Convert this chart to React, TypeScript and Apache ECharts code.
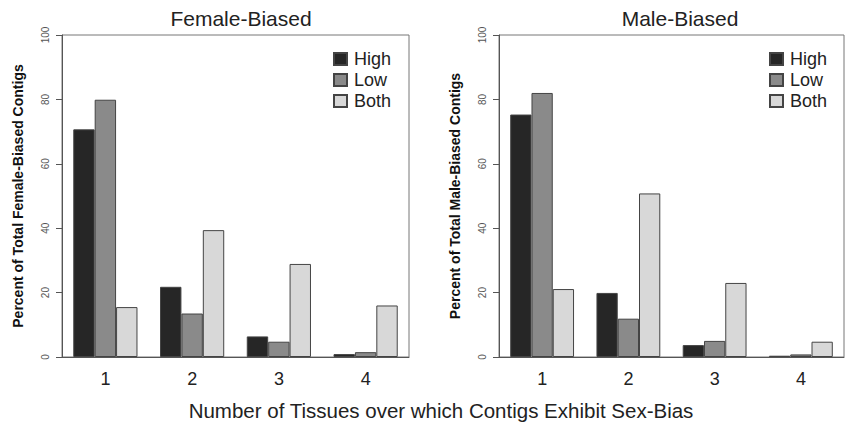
import React, { useEffect, useRef } from "react";
import * as echarts from "echarts";

const categories = ["1", "2", "3", "4"];
const seriesNames = ["High", "Low", "Both"];
const femaleHigh = [70.7, 21.8, 6.4, 0.9];
const femaleLow = [79.9, 13.5, 4.75, 1.5];
const femaleBoth = [15.5, 39.4, 28.9, 16.0];
const maleHigh = [75.3, 19.9, 3.7, 0.4];
const maleLow = [82.0, 11.9, 5.0, 0.8];
const maleBoth = [21.1, 50.8, 23.0, 4.75];
const panelTitles = ["Female-Biased", "Male-Biased"];
const yTitles = ["Percent of Total Female-Biased Contigs", "Percent of Total Male-Biased Contigs"];
const xTitle = "Number of Tissues over which Contigs Exhibit Sex-Bias";

const colors = ["#262626", "#8a8a8a", "#d8d8d8"];
const FONT = "'Liberation Sans', Arial, Helvetica, sans-serif";

export default function App() {
  const ref = useRef<HTMLDivElement>(null);
  useEffect(() => {
    if (!ref.current) return;
    const chart = echarts.init(ref.current, null, { renderer: "svg" });
    const panels = [
      [femaleHigh, femaleLow, femaleBoth],
      [maleHigh, maleLow, maleBoth],
    ];
    const grids = [
      { left: 62, top: 35, width: 347, height: 322 },
      { left: 499, top: 35, width: 345, height: 322 },
    ];
    const series: any[] = [];
    panels.forEach((vals, gi) => {
      vals.forEach((v, si) => {
        series.push({
          type: "bar",
          name: seriesNames[si],
          xAxisIndex: gi,
          yAxisIndex: gi,
          data: v,
          barGap: "0%",
          barCategoryGap: "26%",
          itemStyle: { color: colors[si], borderColor: "#444", borderWidth: 1, borderRadius: 0, borderJoin: "miter" },
        });
      });
    });
    const legendBase = {
      orient: "vertical",
      icon: "rect",
      itemWidth: 13,
      itemHeight: 12,
      itemGap: 3,
      padding: 0,
      data: seriesNames,
      selectedMode: false,
      textStyle: { fontSize: 18, color: "#222", fontFamily: FONT, padding: [0, 0, 0, 2] },
    };
    chart.setOption({
      animation: false,
      textStyle: { fontFamily: FONT },
      title: [
        { text: panelTitles[0], left: 236, top: 3, textAlign: "center", textStyle: { fontSize: 21, fontWeight: "normal", color: "#222", fontFamily: FONT } },
        { text: panelTitles[1], left: 675, top: 3, textAlign: "center", textStyle: { fontSize: 21, fontWeight: "normal", color: "#222", fontFamily: FONT } },
        { text: xTitle, left: 436, top: 395, textAlign: "center", textStyle: { fontSize: 20.5, fontWeight: "normal", color: "#222", fontFamily: FONT } },
      ],
      legend: [
        { ...legendBase, left: 333, top: 50 },
        { ...legendBase, left: 769, top: 50 },
      ],
      grid: grids.map((g) => ({ ...g, show: true, borderColor: "#777", borderWidth: 1, backgroundColor: "transparent" })),
      xAxis: grids.map((_, i) => ({
        type: "category",
        gridIndex: i,
        data: categories,
        axisLine: { show: true, lineStyle: { color: "#555" } },
        axisTick: { show: false },
        axisLabel: { fontSize: 18, color: "#222", margin: 13, fontFamily: FONT },
      })),
      yAxis: grids.map((_, i) => ({
        type: "value",
        gridIndex: i,
        min: 0,
        max: 100,
        interval: 20,
        splitLine: { show: false },
        axisLine: { show: true, lineStyle: { color: "#555" } },
        axisTick: { show: true, length: 6, lineStyle: { color: "#555" } },
        axisLabel: { rotate: 90, fontSize: 10, color: "#555", margin: 12, fontFamily: FONT },
        name: yTitles[i],
        nameLocation: "middle",
        nameGap: 37,
        nameTextStyle: { fontSize: 14, fontWeight: "bold", color: "#111", fontFamily: FONT },
      })),
      series,
    });
    return () => chart.dispose();
  }, []);
  return <div ref={ref} style={{ width: 845, height: 423, position: "absolute", left: 0, top: 0 }} />;
}
